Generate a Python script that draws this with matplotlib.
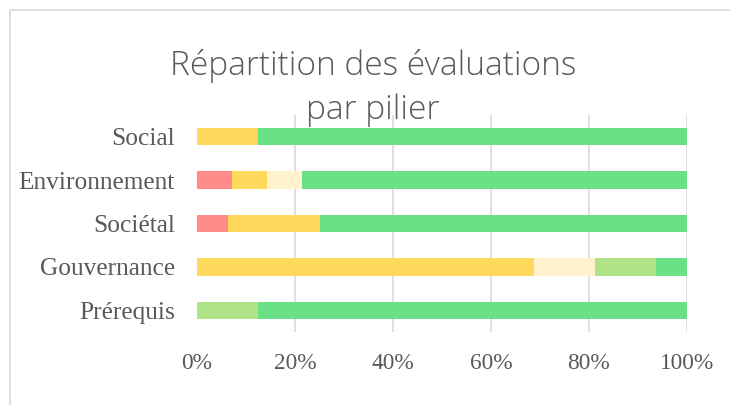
import matplotlib
matplotlib.use("Agg")
import matplotlib.pyplot as plt
from matplotlib.patches import Rectangle
import numpy as np

categories = ["Prérequis", "Gouvernance", "Sociétal", "Environnement", "Social"]
rouge = [0, 0, 6.25, 7.14, 0]
jaune = [0, 68.75, 18.75, 7.14, 12.5]
jaune_clair = [0, 12.5, 0, 7.14, 0]
vert_clair = [12.5, 12.5, 0, 0, 0]
vert = [87.5, 6.25, 75, 78.57, 87.5]
series = [rouge, jaune, jaune_clair, vert_clair, vert]
colors = ["#FF8B8B", "#FFD95B", "#FFF2CC", "#AEE388", "#6AE087"]
xticks = [0, 20, 40, 60, 80, 100]
xticklabels = ["0%", "20%", "40%", "60%", "80%", "100%"]
title = "Répartition des évaluations\npar pilier"

W, H = 730, 405
fig = plt.figure(figsize=(W / 100, H / 100), dpi=100)

# chart frame
fig.patches.append(Rectangle((10 / W, -0.1), 1.2, 1 - 10 / H + 0.1,
                             transform=fig.transFigure, fill=False,
                             edgecolor="#D9D9D9", linewidth=1.2))

ax = fig.add_axes([197 / W, 1 - 332 / H, (687 - 197) / W, (332 - 115) / H])
y = np.arange(len(categories))
left = np.zeros(len(categories))
for vals, c in zip(series, colors):
    ax.barh(y, vals, left=left, height=0.4, color=c, linewidth=0, zorder=3)
    left += np.array(vals)

ax.set_xlim(0, 100)
ax.set_ylim(-0.5, len(categories) - 0.5)
ax.set_yticks(y)
ax.set_yticklabels(categories, family="Liberation Serif", fontsize=18.3, color="#595959")
ax.set_xticks(xticks)
ax.set_xticklabels(xticklabels, family="Liberation Serif", fontsize=16.8, color="#595959")
ax.tick_params(axis="both", length=0)
ax.tick_params(axis="y", pad=16)
ax.tick_params(axis="x", pad=15)
for s in ax.spines.values():
    s.set_visible(False)
for xv in xticks[1:]:
    ax.axvline(xv, color="#D9D9D9", linewidth=1.2, zorder=1)

fig.text(373 / W, 1 - 88 / H, title, ha="center", va="center", fontsize=24,
         family=["Open Sans", "DejaVu Sans"], fontweight="light", color="#595959",
         linespacing=1.42)

fig.savefig("out.png", dpi=100, facecolor="white")
